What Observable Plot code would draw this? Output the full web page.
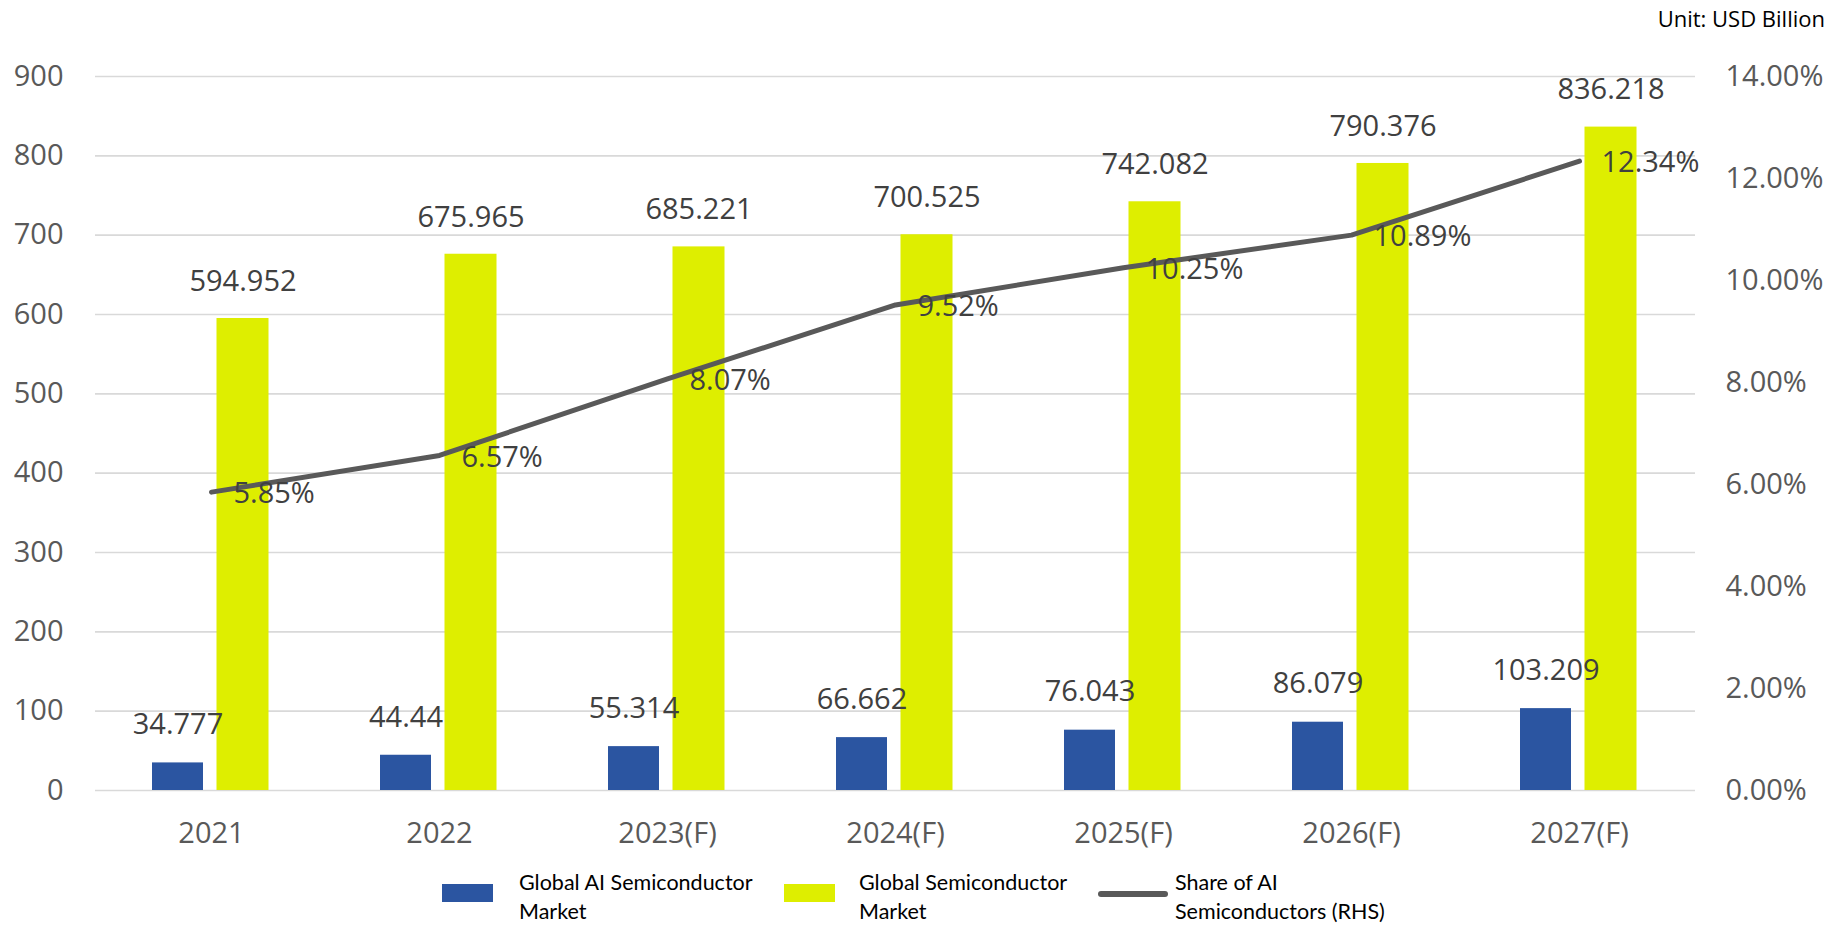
<!DOCTYPE html>
<html>
<head>
<meta charset="utf-8">
<script src="https://cdn.jsdelivr.net/npm/d3@7"></script>
<script src="https://cdn.jsdelivr.net/npm/@observablehq/plot@0.6"></script>
<style>
  html, body { margin: 0; padding: 0; background: #fff; }
  #wrap { position: relative; width: 1837px; height: 927px; overflow: hidden; }
  .unit { position: absolute; right: 12px; top: 3px; font: 400 22px "Open Sans", sans-serif; color: #000; }
  .lg { position: absolute; font: 400 21.5px Lato, "Open Sans", sans-serif; color: #000; line-height: 29px; }
  .sw { position: absolute; }
</style>
</head>
<body>
<div id="wrap">
  <div id="chart"></div>
  <div class="unit">Unit: USD Billion</div>
  <div id="legend"></div>
</div>
<script>
const years = ["2021", "2022", "2023(F)", "2024(F)", "2025(F)", "2026(F)", "2027(F)"];
const aiMarket = [34.777, 44.44, 55.314, 66.662, 76.043, 86.079, 103.209];
const globalMarket = [594.952, 675.965, 685.221, 700.525, 742.082, 790.376, 836.218];
const aiShare = [5.85, 6.57, 8.07, 9.52, 10.25, 10.89, 12.34];
const leftTicks = [0, 100, 200, 300, 400, 500, 600, 700, 800, 900];
const rightTicks = [0, 2, 4, 6, 8, 10, 12, 14];
const seriesNames = ["Global AI Semiconductor Market", "Global Semiconductor Market", "Share of AI Semiconductors (RHS)"];

const yMax = 900, pMax = 14;
const toY = p => p * yMax / pMax;

const rows = years.map((y, i) => ({year: y, ai: aiMarket[i], glob: globalMarket[i], share: aiShare[i]}));

const blue = "#2B55A1", yellow = "#DEEE00", lineC = "#595959";
const font = "'Open Sans', sans-serif";

const chart = Plot.plot({
  width: 1837,
  height: 927,
  marginTop: 76,
  marginBottom: 137,
  marginLeft: 95,
  marginRight: 142,
  style: {fontFamily: font, background: "#fff"},
  x: {type: "band", domain: years, padding: 0, axis: null, label: null},
  y: {domain: [0, yMax], axis: null, label: null},
  marks: [
    Plot.gridY(leftTicks, {stroke: "#D9D9D9", strokeOpacity: 1, strokeWidth: 1.6}),
    Plot.axisY(leftTicks, {anchor: "left", label: null, tickSize: 0, tickPadding: 32, fontSize: 29, fill: "#595959", tickFormat: d => String(d)}),
    Plot.axisY(rightTicks.map(toY), {anchor: "right", label: null, tickSize: 0, tickPadding: 30, fontSize: 29, fill: "#595959", tickFormat: d => (d * pMax / yMax).toFixed(2) + "%"}),
    Plot.axisX(years, {anchor: "bottom", label: null, tickSize: 0, tickPadding: 32, fontSize: 29, fill: "#595959"}),
    Plot.barY(rows, {x: "year", y: "ai", fill: blue, insetLeft: 55, insetRight: 122}),
    Plot.barY(rows, {x: "year", y: "glob", fill: yellow, insetLeft: 119.5, insetRight: 56.5}),
    Plot.line(rows, {x: "year", y: d => toY(d.share), stroke: lineC, strokeWidth: 5, curve: "linear"}),
    Plot.text(rows, {x: "year", y: "ai", text: d => String(d.ai), dx: -33.5, dy: -38, fontSize: 29, fill: "#404040"}),
    Plot.text(rows, {x: "year", y: "glob", text: d => String(d.glob), dx: 31.5, dy: -37, fontSize: 29, fill: "#404040"}),
    Plot.text(rows, {x: "year", y: d => toY(d.share), text: d => d.share.toFixed(2) + "%", dx: 22, dy: 2, textAnchor: "start", fontSize: 29, fill: "#404040"})
  ]
});
document.getElementById("chart").appendChild(chart);

// legend
const lg = document.getElementById("legend");
const items = [
  {sw: {left: 442, top: 884, width: 51, height: 18, background: blue}, left: 519},
  {sw: {left: 784, top: 884, width: 51, height: 18, background: yellow}, left: 859},
  {sw: {left: 1098, top: 891, width: 70, height: 6, background: lineC, borderRadius: "3px"}, left: 1175}
];
const labels = [
  seriesNames[0].replace(" Market", "<br>Market"),
  seriesNames[1].replace(" Market", "<br>Market"),
  seriesNames[2].replace(" Semiconductors", "<br>Semiconductors")
];
items.forEach((it, i) => {
  const s = document.createElement("div");
  s.className = "sw";
  Object.entries(it.sw).forEach(([k, v]) => s.style[k] = typeof v === "number" ? v + "px" : v);
  lg.appendChild(s);
  const t = document.createElement("div");
  t.className = "lg";
  t.style.left = it.left + "px";
  t.style.top = "868px";
  t.innerHTML = labels[i];
  lg.appendChild(t);
});
</script>
</body>
</html>
